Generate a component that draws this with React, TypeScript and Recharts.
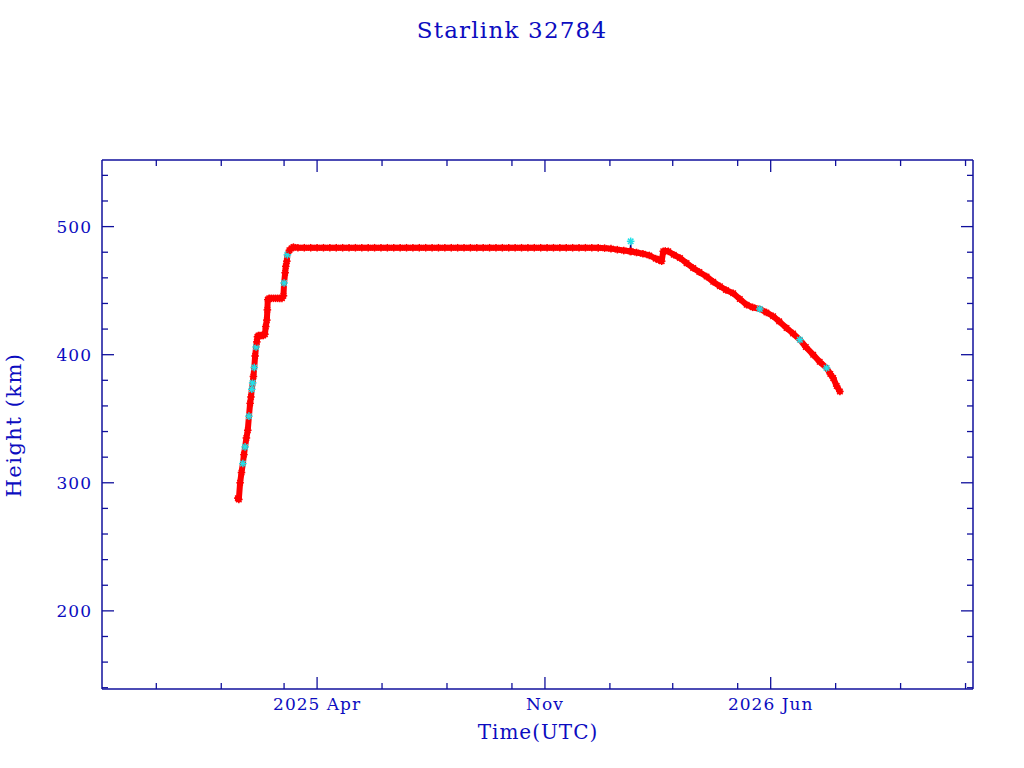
import { ComposedChart, Line, XAxis, YAxis } from "recharts";

// days counted from 2025-01-01 (UTC), heights in km
const ascentDays = [
  15.6, 16.5, 17.7, 19.0, 20.3, 21.3, 22.4, 23.6, 24.9, 26.0, 27.1, 27.9, 28.7,
  29.5, 30.2, 31.0, 31.8, 32.7, 33.4, 34.0, 35.0, 36.5, 38.0, 39.5, 41.0, 41.8,
  42.8, 43.3, 43.7, 45, 47, 49, 51, 53, 55, 57, 58.4, 59, 60, 60.6, 61.6, 62.1,
  64, 66, 67.8,
];
const ascentKm = [
  288, 287, 300, 308, 315, 322, 328, 335, 341, 352, 362, 367, 373, 378, 383,
  390, 399, 406, 410, 414, 415, 415, 415, 415, 416, 422, 427, 435, 443, 444,
  444, 444, 444, 444, 444, 444, 446, 456, 464, 469, 473, 478, 481.5, 483, 484,
];

const cruiseDays = [
  72, 78, 84, 90, 96, 102, 108, 114, 120, 126, 132, 138, 144, 150, 156, 162,
  168, 174, 180, 186, 192, 198, 204, 210, 216, 222, 228, 234, 240, 246, 252,
  258, 264, 270, 276, 282, 288, 294, 300, 306, 312, 318, 324, 330, 336, 342,
  348, 354,
];
const cruiseKm = [
  483.5, 483.5, 483.5, 483.5, 483.5, 483.5, 483.5, 483.5, 483.5, 483.5, 483.5,
  483.5, 483.5, 483.5, 483.5, 483.5, 483.5, 483.5, 483.5, 483.5, 483.5, 483.5,
  483.5, 483.5, 483.5, 483.5, 483.5, 483.5, 483.5, 483.5, 483.5, 483.5, 483.5,
  483.5, 483.5, 483.5, 483.5, 483.5, 483.5, 483.5, 483.5, 483.5, 483.5, 483.5,
  483.5, 483.5, 483.5, 483.4,
];

const decayDays = [
  360, 366, 372, 378, 384, 384.5, 385, 390, 396, 402, 408, 411, 413.6, 415.1,
  417, 419.8, 425, 430.8, 437, 443.2, 449, 455.8, 462, 468.3, 474, 480.8, 487,
  493.4, 499, 505.8, 512, 518.3, 524, 530.9, 537, 543.4, 549, 555.9, 562, 568.5,
  572, 574.7, 578, 581,
];
const decayKm = [
  483.2, 482.8, 482.0, 481.3, 480.7, 488.5, 480.6, 479.8, 478.8, 477.5, 475.0,
  474.0, 473.0, 480.7, 481.0, 480.7, 478.0, 475.5, 471.5, 467.7, 464.5, 461.0,
  457.0, 453.4, 450.5, 448.0, 443.5, 439.0, 437.0, 435.7, 433.0, 430.0, 426.0,
  420.8, 416.5, 411.7, 406.0, 400.0, 394.5, 389.6, 385.0, 381.8, 375.5, 371.3,
];

// points drawn in cyan instead of red
const cyanDays = [20.3, 22.4, 26.0, 28.7, 29.5, 31.0, 32.7, 59, 62.1, 384.5, 505.8, 543.4, 568.5];
// lone outlier joined only by the thin line
const spikeDays = [384.5];

const majorDays = [90, 304, 516];
const majorLabels = ["2025 Apr", "Nov", "2026 Jun"];
const minorDays = [-61, 0, 59, 151, 212, 273, 365, 424, 485, 577, 638, 699];
const heightTicks = [140, 160, 180, 200, 220, 240, 260, 280, 300, 320, 340, 360, 380, 400, 420, 440, 460, 480, 500, 520, 540];
const heightLabels = [200, 300, 400, 500];

const AXIS = "#10109c";
const TEXT = "#0c0cc0";
const FONT = "'DejaVu Serif', serif";

const data = [
  ...ascentDays.map((d, i) => ({ day: d, km: ascentKm[i] })),
  ...cruiseDays.map((d, i) => ({ day: d, km: cruiseKm[i] })),
  ...decayDays.map((d, i) => ({ day: d, km: decayKm[i] })),
].map((p) => ({ ...p, cyan: cyanDays.includes(p.day) }));

const bandData = data.filter((p) => !spikeDays.includes(p.day));

const dayTicks = [...minorDays, ...majorDays].sort((a, b) => a - b);

const Star = ({ cx, cy, payload }: any) => {
  if (cx == null || cy == null) return null;
  const c = payload.cyan ? "#22e0e8" : "#ff0000";
  const r = 3.8;
  const d = r * 0.72;
  return (
    <g stroke={c} strokeWidth={1.5}>
      <line x1={cx - r} y1={cy} x2={cx + r} y2={cy} />
      <line x1={cx} y1={cy - r} x2={cx} y2={cy + r} />
      <line x1={cx - d} y1={cy - d} x2={cx + d} y2={cy + d} />
      <line x1={cx - d} y1={cy + d} x2={cx + d} y2={cy - d} />
    </g>
  );
};

const HeightTick = ({ x, y, payload, side }: any) => {
  const major = heightLabels.includes(payload.value);
  const len = major ? 12 : 6;
  const dir = side === "left" ? 1 : -1;
  return (
    <g>
      <line x1={x} y1={y} x2={x + dir * len} y2={y} stroke={AXIS} strokeWidth={1.3} />
      {major && side === "left" && (
        <text x={x - 10} y={y} dy={6} textAnchor="end" fill={TEXT} fontFamily={FONT} fontSize={17} letterSpacing={1}>
          {payload.value}
        </text>
      )}
    </g>
  );
};

const DayTick = ({ x, y, payload, side }: any) => {
  const i = majorDays.indexOf(payload.value);
  const len = i >= 0 ? 12 : 6;
  const dir = side === "bottom" ? -1 : 1;
  return (
    <g>
      <line x1={x} y1={y} x2={x} y2={y + dir * len} stroke={AXIS} strokeWidth={1.3} />
      {i >= 0 && side === "bottom" && (
        <text x={x} y={y + 21} textAnchor="middle" fill={TEXT} fontFamily={FONT} fontSize={17} letterSpacing={1}>
          {majorLabels[i]}
        </text>
      )}
    </g>
  );
};

const App = () => {
  return (
    <div style={{ position: "absolute", left: 0, top: 0, width: 1024, height: 768, background: "#fff" }}>
      <div
        style={{
          position: "absolute",
          left: 0,
          top: 17,
          width: 1024,
          textAlign: "center",
          fontFamily: FONT,
          fontSize: 23,
          letterSpacing: 1.2,
          color: TEXT,
        }}
      >
        Starlink 32784
      </div>
      <div
        style={{
          position: "absolute",
          left: 438,
          top: 720,
          width: 200,
          textAlign: "center",
          fontFamily: FONT,
          fontSize: 20,
          letterSpacing: 1,
          color: TEXT,
        }}
      >
        Time(UTC)
      </div>
      <div
        style={{
          position: "absolute",
          left: 14,
          top: 425,
          transform: "translate(-50%, -50%) rotate(-90deg)",
          whiteSpace: "nowrap",
          fontFamily: FONT,
          fontSize: 21,
          letterSpacing: 1.5,
          color: TEXT,
        }}
      >
        Height (km)
      </div>
      <ComposedChart
        width={1024}
        height={768}
        data={data}
        margin={{ top: 150, right: 41, bottom: 39, left: 42 }}
      >
        <XAxis
          dataKey="day"
          type="number"
          domain={[-112, 706]}
          allowDataOverflow
          ticks={dayTicks}
          interval={0}
          height={40}
          tickSize={0}
          tickMargin={0}
          tickLine={false}
          axisLine={{ stroke: AXIS, strokeWidth: 1.5 }}
          tick={(p: any) => <DayTick {...p} side="bottom" />}
        />
        <XAxis
          xAxisId="top"
          orientation="top"
          dataKey="day"
          type="number"
          domain={[-112, 706]}
          allowDataOverflow
          ticks={dayTicks}
          interval={0}
          height={10}
          tickSize={0}
          tickMargin={0}
          tickLine={false}
          axisLine={{ stroke: AXIS, strokeWidth: 1.5 }}
          tick={(p: any) => <DayTick {...p} side="top" />}
        />
        <YAxis
          type="number"
          domain={[139, 552]}
          allowDataOverflow
          ticks={heightTicks}
          interval={0}
          width={60}
          tickSize={0}
          tickMargin={0}
          tickLine={false}
          axisLine={{ stroke: AXIS, strokeWidth: 1.5 }}
          tick={(p: any) => <HeightTick {...p} side="left" />}
        />
        <YAxis
          yAxisId="right"
          orientation="right"
          type="number"
          domain={[139, 552]}
          allowDataOverflow
          ticks={heightTicks}
          interval={0}
          width={10}
          tickSize={0}
          tickMargin={0}
          tickLine={false}
          axisLine={{ stroke: AXIS, strokeWidth: 1.5 }}
          tick={(p: any) => <HeightTick {...p} side="right" />}
        />
        <Line
          dataKey="km"
          type="linear"
          stroke="#000080"
          strokeWidth={1.2}
          dot={false}
          activeDot={false}
          isAnimationActive={false}
        />
        <Line
          data={bandData}
          dataKey="km"
          type="linear"
          stroke="#ff0000"
          strokeWidth={6}
          strokeLinejoin="round"
          strokeLinecap="round"
          dot={false}
          activeDot={false}
          isAnimationActive={false}
        />
        <Line
          dataKey="km"
          type="linear"
          stroke="none"
          dot={(p: any) => <Star key={p.index} {...p} />}
          activeDot={false}
          isAnimationActive={false}
        />
      </ComposedChart>
    </div>
  );
};

export default App;
